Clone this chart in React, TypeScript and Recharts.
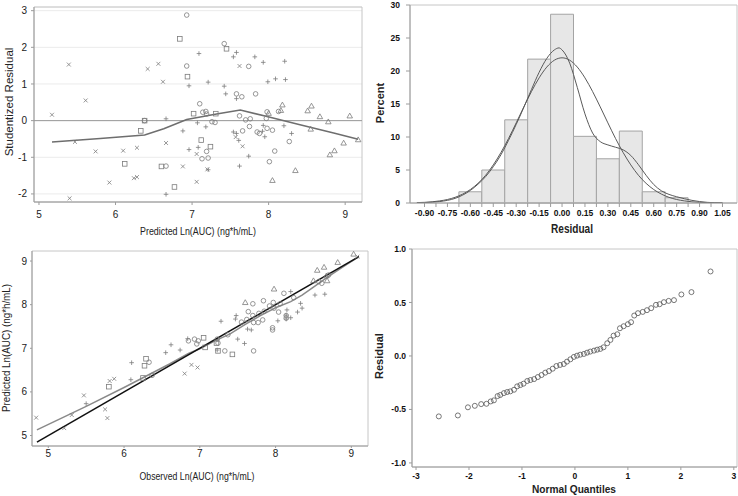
import React from "react";
import {
  ComposedChart,
  Scatter,
  Line,
  XAxis,
  YAxis,
  CartesianGrid,
  ReferenceLine,
  ReferenceArea,
} from "recharts";

const FONT = '"Liberation Sans", Arial, sans-serif';

// ---- top left: studentized residual vs predicted ln(AUC), one list per symbol
const residCross = [
  [5.17, 0.16], [5.39, 1.53], [5.4, -2.12], [5.47, -0.58], [5.61, 0.55], [5.74, -0.84],
  [5.92, -1.69], [6.1, -0.82], [6.24, -1.57], [6.28, -1.54], [6.28, -0.74], [6.42, 1.41],
  [6.56, 1.55], [6.62, 1.06], [6.66, -0.61], [6.88, -1.25], [7.06, -0.91], [7.06, -1.67],
  [7.2, -1.33], [7.57, -0.45], [7.66, -0.7], [7.62, 1.49],
];
const residSquare = [
  [6.33, -0.28], [6.38, 0.0], [6.12, -1.18], [6.6, -1.25], [6.77, -1.81], [6.84, 2.23],
  [6.94, 1.2], [7.02, 0.19], [7.12, -0.53], [7.24, -0.71], [7.31, 0.19], [7.45, 1.96],
];
const residCircle = [
  [6.38, 0.0], [6.66, -1.24], [6.93, 2.88], [6.93, 1.49], [7.1, 0.46], [7.14, 0.23],
  [7.18, 0.25], [7.19, 0.18], [7.26, -0.03], [7.3, -0.05], [7.13, -1.04], [7.21, -1.02],
  [7.19, -0.84], [7.42, 2.1], [7.58, 0.73], [7.65, 0.65], [7.74, 1.48], [7.83, 0.73],
  [7.62, 0.13], [7.66, -0.28], [7.7, 0.02], [7.75, -0.16], [7.76, 0.05], [7.85, -0.31],
  [7.88, -0.35], [7.98, 0.24], [7.97, 0.06], [7.98, -0.21], [8.05, -0.26], [8.13, 0.25],
  [8.01, -1.12], [8.08, -0.83], [8.27, -0.57],
];
const residPlus = [
  [7.09, 1.83], [6.96, 0.95], [7.21, 1.05], [7.42, 0.94], [7.44, 0.73], [7.58, 0.6],
  [7.54, 1.74], [7.58, 1.86], [7.82, 1.74], [7.93, 1.59], [7.99, 1.06], [8.09, 1.14],
  [8.21, 1.62], [8.22, 1.12], [7.07, -0.06], [7.18, -0.17], [6.88, -0.28], [7.08, -0.73],
  [6.96, -0.79], [7.21, -1.34], [7.54, -0.31], [7.61, -0.54], [7.62, -1.24], [7.74, -0.97],
  [7.92, -0.29], [7.93, -0.13], [7.95, -0.44], [8.2, -0.14], [8.3, -0.35], [6.66, 0.05],
  [6.66, -2.01], [7.58, -0.35],
];
const residTriangle = [
  [8.0, 0.2], [8.16, 0.28], [8.18, 0.43], [8.51, 0.27], [8.56, 0.4], [8.67, 0.11],
  [8.78, -0.03], [9.06, 0.13], [8.55, -0.23], [9.17, -0.52], [8.98, -0.61], [8.86, -0.82],
  [8.8, -0.93], [8.35, -1.36], [8.05, -1.63],
];
const residLoess = [
  [5.17, -0.58], [5.8, -0.49], [6.38, -0.39], [6.63, -0.22], [6.93, 0.03], [7.32, 0.18],
  [7.63, 0.29], [7.98, 0.11], [8.41, -0.11], [8.85, -0.34], [9.17, -0.51],
];

// ---- top right: histogram of residuals with normal and kernel curves
const binMids = [-0.6, -0.45, -0.3, -0.15, 0.0, 0.15, 0.3, 0.45, 0.6, 0.75];
const binPct = [1.7, 5.0, 12.6, 21.8, 28.6, 10.1, 6.7, 10.9, 1.7, 0.8];
const histLabels = [-0.9, -0.75, -0.6, -0.45, -0.3, -0.15, 0.0, 0.15, 0.3, 0.45, 0.6, 0.75, 0.9, 1.05];
const normalCurve = [
  [-0.95, 0.06], [-0.9, 0.1], [-0.85, 0.18], [-0.8, 0.32], [-0.75, 0.53], [-0.7, 0.86],
  [-0.65, 1.35], [-0.6, 2.04], [-0.55, 2.98], [-0.5, 4.2], [-0.45, 5.77], [-0.4, 7.64],
  [-0.35, 9.78], [-0.3, 12.14], [-0.25, 14.56], [-0.2, 16.89], [-0.15, 18.96], [-0.1, 20.59],
  [-0.05, 21.64], [0.0, 22.0], [0.05, 21.64], [0.1, 20.59], [0.15, 18.96], [0.2, 16.89],
  [0.25, 14.56], [0.3, 12.14], [0.35, 9.78], [0.4, 7.64], [0.45, 5.77], [0.5, 4.2],
  [0.55, 2.98], [0.6, 2.04], [0.65, 1.35], [0.7, 0.86], [0.75, 0.53], [0.8, 0.32],
  [0.85, 0.18], [0.9, 0.1], [0.95, 0.06], [1.0, 0.03], [1.05, 0.015],
];
const kernelCurve = [
  [-0.95, 0.03], [-0.9, 0.06], [-0.85, 0.12], [-0.8, 0.22], [-0.75, 0.4], [-0.7, 0.7],
  [-0.65, 1.2], [-0.6, 1.9], [-0.55, 2.85], [-0.5, 4.0], [-0.45, 5.5], [-0.4, 7.3],
  [-0.35, 9.5], [-0.3, 11.9], [-0.25, 14.5], [-0.2, 17.2], [-0.15, 19.8], [-0.1, 21.9],
  [-0.05, 23.2], [-0.02, 23.5], [0.0, 23.2], [0.05, 21.2], [0.1, 17.5], [0.15, 13.5],
  [0.2, 10.6], [0.25, 9.3], [0.3, 8.8], [0.35, 8.45], [0.4, 8.05], [0.45, 7.2], [0.5, 5.8],
  [0.55, 4.2], [0.6, 2.8], [0.65, 1.85], [0.7, 1.3], [0.75, 0.95], [0.8, 0.65], [0.85, 0.4],
  [0.9, 0.22], [0.95, 0.1], [1.0, 0.04], [1.05, 0.015],
];

// ---- bottom left: predicted vs observed ln(AUC)
const obsCross = [
  [4.84, 5.41], [5.21, 5.17], [5.31, 5.47], [5.47, 5.92], [5.75, 5.6], [5.78, 5.4],
  [5.81, 6.25], [5.87, 6.3], [6.8, 6.42], [6.89, 6.62], [6.97, 6.56], [9.08, 9.1],
];
const obsPlus = [
  [5.5, 5.73], [6.1, 6.67], [6.09, 6.28], [6.55, 6.9], [6.62, 7.08], [6.74, 6.96],
  [6.84, 7.22], [7.23, 6.96], [7.28, 7.62], [7.47, 7.67], [7.48, 7.75], [7.5, 7.21],
  [7.59, 7.11], [7.63, 7.44], [7.68, 7.42], [8.03, 7.63], [8.14, 7.67], [8.14, 7.76],
  [8.15, 7.88], [8.2, 7.7], [8.2, 8.3], [8.29, 7.83], [8.33, 8.03], [8.35, 7.92],
  [8.52, 8.22], [8.65, 8.24],
];
const obsSquare = [
  [5.8, 6.12], [6.25, 6.32], [6.27, 6.6], [6.29, 6.76], [7.05, 7.24], [7.07, 7.02],
  [7.24, 6.94], [7.43, 6.86], [7.22, 7.12],
];
const obsCircle = [
  [6.33, 6.68], [6.37, 6.38], [6.85, 7.17], [6.93, 7.21], [6.96, 7.1], [6.98, 7.17],
  [7.23, 7.21], [7.24, 7.12], [7.33, 6.94], [7.37, 7.31], [7.64, 7.84], [7.7, 8.02],
  [7.71, 7.59], [7.71, 6.94], [7.77, 7.59], [7.83, 7.65], [7.84, 8.09], [7.92, 7.97],
  [7.96, 7.47], [7.96, 7.42], [7.97, 8.05], [7.98, 7.92], [8.04, 7.83], [8.06, 8.02],
  [8.11, 8.26], [8.14, 7.75], [8.14, 7.69], [8.24, 8.16], [8.57, 8.53], [8.61, 8.49],
  [8.7, 8.68], [7.55, 7.6], [7.62, 7.66], [7.7, 7.75], [7.78, 7.8], [7.85, 7.85],
];
const obsTriangle = [
  [7.6, 8.05], [7.98, 8.36], [8.5, 8.55], [8.55, 8.79], [8.64, 8.86], [8.67, 8.66],
  [8.68, 8.55], [8.82, 8.97], [9.03, 9.16],
];
const obsLoess = [
  [4.85, 5.13], [5.5, 5.67], [6.0, 6.1], [6.3, 6.37], [6.6, 6.64], [6.85, 6.88],
  [7.0, 6.99], [7.2, 7.17], [7.4, 7.33], [7.6, 7.55], [7.8, 7.75], [8.0, 7.93],
  [8.2, 8.07], [8.35, 8.22], [8.5, 8.4], [8.7, 8.65], [8.9, 8.88], [9.1, 9.1],
];
const identityLine = [[4.85, 4.85], [9.1, 9.1]];

// ---- bottom right: normal Q-Q plot of residuals
const qqQuantiles = [
  -2.57, -2.21, -2.02, -1.89, -1.77, -1.67, -1.59, -1.53, -1.46, -1.41, -1.34, -1.28,
  -1.22, -1.15, -1.09, -1.03, -0.97, -0.9, -0.84, -0.77, -0.7, -0.63, -0.56, -0.49,
  -0.42, -0.35, -0.28, -0.21, -0.15, -0.085, -0.02, 0.04, 0.1, 0.17, 0.23, 0.29, 0.36,
  0.42, 0.48, 0.54, 0.61, 0.67, 0.73, 0.8, 0.85, 0.92, 1.0, 1.06, 1.12, 1.19, 1.28, 1.36,
  1.44, 1.53, 1.6, 1.68, 1.77, 1.87, 2.01, 2.2, 2.56,
];
const qqResiduals = [
  -0.565, -0.556, -0.48, -0.466, -0.45, -0.447, -0.425, -0.415, -0.375, -0.365, -0.347,
  -0.337, -0.331, -0.316, -0.284, -0.272, -0.259, -0.234, -0.225, -0.216, -0.197, -0.178,
  -0.156, -0.141, -0.119, -0.094, -0.084, -0.075, -0.053, -0.031, -0.009, 0.003, 0.012,
  0.019, 0.031, 0.041, 0.05, 0.059, 0.066, 0.081, 0.119, 0.15, 0.19, 0.203, 0.259, 0.278,
  0.297, 0.316, 0.378, 0.4, 0.412, 0.428, 0.447, 0.478, 0.484, 0.503, 0.515, 0.522, 0.575,
  0.597, 0.79,
];

const pts = (a: number[][]) => a.map(([x, y]) => ({ x, y }));

const SYM = "#7c7c7c";

// open marker drawn around the point the library positioned
function marker(kind: string, color = SYM, r = 2.3) {
  return (p: any) => {
    const { cx, cy } = p;
    if (cx == null || cy == null) return <g />;
    const common = { fill: "none", stroke: color, strokeWidth: 0.8 };
    if (kind === "circle") return <circle cx={cx} cy={cy} r={r} {...common} />;
    if (kind === "square")
      return <rect x={cx - r} y={cy - r} width={2 * r} height={2 * r} {...common} />;
    if (kind === "triangle")
      return (
        <path
          d={`M${cx},${cy - r * 1.2}L${cx + r * 1.2},${cy + r * 0.9}L${cx - r * 1.2},${cy + r * 0.9}Z`}
          {...common}
        />
      );
    if (kind === "plus")
      return <path d={`M${cx - r},${cy}H${cx + r}M${cx},${cy - r}V${cy + r}`} {...common} />;
    const d = r * 0.85;
    return (
      <path
        d={`M${cx - d},${cy - d}L${cx + d},${cy + d}M${cx + d},${cy - d}L${cx - d},${cy + d}`}
        {...common}
      />
    );
  };
}

const plainTick = { fontSize: 10, fill: "#222", fontFamily: FONT };
const boldTick = { fontSize: 8.5, fill: "#111", fontFamily: FONT, fontWeight: 700 };
const axisStroke = { stroke: "#9c9c9c" };
const FRAME = "#c6c6c6";

function ResidualPlot() {
  const xd = [4.935, 9.22];
  const yd = [-2.22, 3.1];
  return (
    <ComposedChart width={370} height={250} margin={{ top: 7, right: 8, bottom: 0, left: 0 }}>
      <CartesianGrid vertical={false} stroke="#ebebeb" />
      <XAxis type="number" dataKey="x" domain={xd} ticks={[5, 6, 7, 8, 9]} interval={0}
        allowDataOverflow height={48} tickSize={3} tickMargin={6} tick={plainTick}
        axisLine={axisStroke} tickLine={axisStroke} />
      <YAxis type="number" dataKey="y" domain={yd} ticks={[-2, -1, 0, 1, 2, 3]} interval={0}
        allowDataOverflow width={34} tickSize={3} tickMargin={4} tick={plainTick}
        axisLine={axisStroke} tickLine={axisStroke} />
      <ReferenceLine y={0} stroke="#9a9a9a" />
      <ReferenceArea x1={xd[0]} x2={xd[1]} y1={yd[0]} y2={yd[1]} fill="none" stroke={FRAME} />
      <Line data={pts(residLoess)} dataKey="y" type="linear" stroke="#6e6e6e" strokeWidth={1.5}
        dot={false} isAnimationActive={false} />
      <Scatter data={pts(residCross)} shape={marker("cross")} isAnimationActive={false} />
      <Scatter data={pts(residSquare)} shape={marker("square")} isAnimationActive={false} />
      <Scatter data={pts(residCircle)} shape={marker("circle")} isAnimationActive={false} />
      <Scatter data={pts(residPlus)} shape={marker("plus")} isAnimationActive={false} />
      <Scatter data={pts(residTriangle)} shape={marker("triangle")} isAnimationActive={false} />
    </ComposedChart>
  );
}

function HistogramPlot() {
  const xd = [-0.995, 1.145];
  const ticks: number[] = [];
  histLabels.forEach((v, i) => {
    ticks.push(v);
    if (i < histLabels.length - 1) ticks.push((v + histLabels[i + 1]) / 2);
  });
  return (
    <ComposedChart width={368} height={250} margin={{ top: 5, right: 1, bottom: 0, left: 0 }}>
      <XAxis type="number" dataKey="x" domain={xd} ticks={ticks} interval={0} allowDataOverflow
        tickFormatter={(v: number, i: number) => (i % 2 === 0 ? v.toFixed(2) : "")}
        height={47} tickSize={4} tickMargin={3} tick={boldTick}
        axisLine={axisStroke} tickLine={axisStroke} />
      <YAxis type="number" dataKey="y" domain={[0, 30]} ticks={[0, 5, 10, 15, 20, 25, 30]}
        interval={0} allowDataOverflow width={40} tickSize={4} tickMargin={6} tick={boldTick}
        axisLine={axisStroke} tickLine={axisStroke} />
      {binMids.map((m, i) => (
        <ReferenceArea key={i} x1={m - 0.075} x2={m + 0.075} y1={0} y2={binPct[i]}
          fill="#e7e7e7" fillOpacity={1} stroke="#a4a4a4" />
      ))}
      <ReferenceArea x1={xd[0]} x2={xd[1]} y1={0} y2={30} fill="none" stroke={FRAME} />
      <Line data={pts(normalCurve)} dataKey="y" type="monotone" stroke="#5a5a5a" strokeWidth={1}
        dot={false} isAnimationActive={false} />
      <Line data={pts(kernelCurve)} dataKey="y" type="monotone" stroke="#5a5a5a" strokeWidth={1}
        dot={false} isAnimationActive={false} />
    </ComposedChart>
  );
}

function ObservedPlot() {
  const xd = [4.785, 9.22];
  const yd = [4.76, 9.23];
  return (
    <ComposedChart width={370} height={246} margin={{ top: 1, right: 2, bottom: 0, left: 0 }}>
      <XAxis type="number" dataKey="x" domain={xd} ticks={[5, 6, 7, 8, 9]} interval={0}
        allowDataOverflow height={50} tickSize={2} tickMargin={2} tick={plainTick}
        axisLine={axisStroke} tickLine={axisStroke} />
      <YAxis type="number" dataKey="y" domain={yd} ticks={[5, 6, 7, 8, 9]} interval={0}
        allowDataOverflow width={32} tickSize={2} tickMargin={3} tick={plainTick}
        axisLine={axisStroke} tickLine={axisStroke} />
      <ReferenceArea x1={xd[0]} x2={xd[1]} y1={yd[0]} y2={yd[1]} fill="none" stroke={FRAME} />
      <Scatter data={pts(obsCross)} shape={marker("cross")} isAnimationActive={false} />
      <Scatter data={pts(obsPlus)} shape={marker("plus")} isAnimationActive={false} />
      <Scatter data={pts(obsSquare)} shape={marker("square")} isAnimationActive={false} />
      <Scatter data={pts(obsCircle)} shape={marker("circle")} isAnimationActive={false} />
      <Scatter data={pts(obsTriangle)} shape={marker("triangle")} isAnimationActive={false} />
      <Line data={pts(obsLoess)} dataKey="y" type="linear" stroke="#8a8a8a" strokeWidth={1.5}
        dot={false} isAnimationActive={false} />
      <Line data={pts(identityLine)} dataKey="y" type="linear" stroke="#111" strokeWidth={1.5}
        dot={false} isAnimationActive={false} />
    </ComposedChart>
  );
}

function QQPlot() {
  const xd = [-3.076, 3.06];
  const yd = [-1.038, 1.0];
  const data = qqQuantiles.map((q, i) => ({ x: q, y: qqResiduals[i] }));
  return (
    <ComposedChart width={368} height={252} margin={{ top: 5, right: 1, bottom: 0, left: 0 }}>
      <XAxis type="number" dataKey="x" domain={xd} ticks={[-3, -2, -1, 0, 1, 2, 3]} interval={0}
        allowDataOverflow height={29} tickSize={3} tickMargin={3} tick={boldTick}
        axisLine={axisStroke} tickLine={axisStroke} />
      <YAxis type="number" dataKey="y" domain={yd} ticks={[-1, -0.5, 0, 0.5, 1]} interval={0}
        tickFormatter={(v: number) => v.toFixed(1)} allowDataOverflow width={42} tickSize={3}
        tickMargin={3} tick={boldTick} axisLine={axisStroke} tickLine={axisStroke} />
      <ReferenceArea x1={xd[0]} x2={xd[1]} y1={yd[0]} y2={yd[1]} fill="none" stroke={FRAME} />
      <Scatter data={data} shape={marker("circle", "#555", 2.5)} isAnimationActive={false} />
    </ComposedChart>
  );
}

const title = { fontFamily: FONT, fill: "#222" };
const squeeze = { lengthAdjust: "spacingAndGlyphs" as const };

export default function App() {
  return (
    <div style={{ position: "absolute", left: 0, top: 0, width: 738, height: 496, background: "#fff", overflow: "hidden" }}>
      <div style={{ position: "absolute", left: 0, top: 0 }}><ResidualPlot /></div>
      <div style={{ position: "absolute", left: 370, top: 0 }}><HistogramPlot /></div>
      <div style={{ position: "absolute", left: 0, top: 250 }}><ObservedPlot /></div>
      <div style={{ position: "absolute", left: 370, top: 244 }}><QQPlot /></div>
      <svg width={738} height={496} style={{ position: "absolute", left: 0, top: 0, pointerEvents: "none" }}>
        <text x={198} y={231} dy="0.35em" textAnchor="middle" fontSize={11.5} style={title}
          textLength={116} {...squeeze}>
          Predicted Ln(AUC) (ng*h/mL)
        </text>
        <text x={9} y={102} dy="0.35em" textAnchor="middle" fontSize={11.5} style={title}
          transform="rotate(-90 9 102)">Studentized Residual</text>
        <text x={572} y={228} dy="0.35em" textAnchor="middle" fontSize={13} fontWeight={700} style={title}
          textLength={42} {...squeeze}>
          Residual
        </text>
        <text x={380} y={103} dy="0.35em" textAnchor="middle" fontSize={11} fontWeight={700} style={title}
          transform="rotate(-90 380 103)">Percent</text>
        <text x={197} y={476} dy="0.35em" textAnchor="middle" fontSize={11.5} style={title}
          textLength={115} {...squeeze}>
          Observed Ln(AUC) (ng*h/mL)
        </text>
        <text x={6} y={348} dy="0.35em" textAnchor="middle" fontSize={11} style={title}
          textLength={128} {...squeeze} transform="rotate(-90 6 348)">Predicted Ln(AUC) (ng*h/mL)</text>
        <text x={574} y={489} dy="0.35em" textAnchor="middle" fontSize={11.5} fontWeight={700} style={title}
          textLength={84} {...squeeze}>
          Normal Quantiles
        </text>
        <text x={379} y={356} dy="0.35em" textAnchor="middle" fontSize={11} fontWeight={700} style={title}
          transform="rotate(-90 379 356)">Residual</text>
      </svg>
    </div>
  );
}
